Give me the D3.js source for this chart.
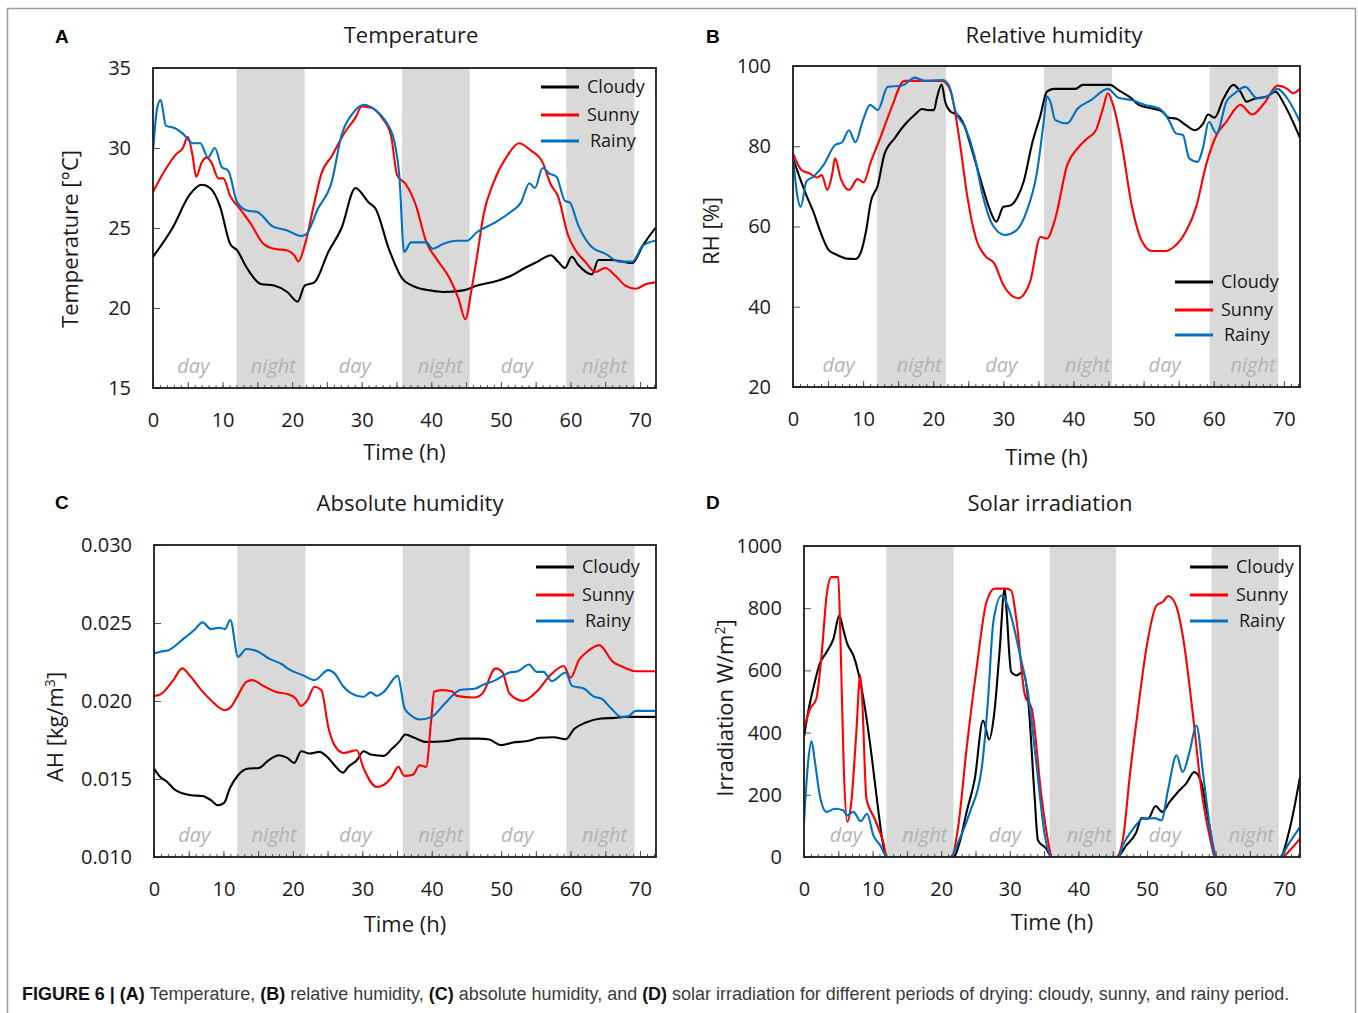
<!DOCTYPE html>
<html lang="en">
<head>
<meta charset="UTF-8">
<title>Figure 6 - drying conditions</title>
<style>
  body { margin: 0; background: #fff; }
  svg { display: block; font-family: 'Open Sans', sans-serif; }
  .title { font-size: 22px; fill: #1a1a1a; text-anchor: middle; }
  .letter { font: bold 19px 'Liberation Sans', Arial, sans-serif; fill: #000; }
  .axis-title { font-size: 22px; fill: #1a1a1a; text-anchor: middle; }
  .legend-text { font-size: 18px; fill: #1a1a1a; }
  .period { font-size: 20px; font-style: italic; fill: #b3b3b3; text-anchor: middle; }
  .caption { font-family: 'Liberation Sans', Arial, sans-serif; font-size: 19px; fill: #3a3a3a; }
</style>
</head>
<body>
<svg id="fig" width="1358" height="1013"></svg>

<script src="https://cdn.jsdelivr.net/npm/d3@7"></script>
<script>
// ---- data ----
const seriesNames = ["Cloudy", "Sunny", "Rainy"];
const seriesColors = ["#000000", "#ff0000", "#0070c0"];
const xTicks = [0, 10, 20, 30, 40, 50, 60, 70];
const nights = [[12, 21.8], [35.8, 45.5], [59.4, 69.2]];
const dayPos = [5.8, 29, 52.3];
const nightPos = [17.3, 41.3, 64.9];

const tempTicks = [15, 20, 25, 30, 35];
const rhTicks = [20, 40, 60, 80, 100];
const ahTicks = [0.010, 0.015, 0.020, 0.025, 0.030];
const irrTicks = [0, 200, 400, 600, 800, 1000];

// [time h, value]
const tempCloudy = [[0,23.2],[2.8,25.0],[5.3,27.1],[7.0,27.7],[8.2,27.5],[9.6,26.4],[11.1,24.0],[12.1,23.6],[13.5,22.5],[15.5,21.5],[17.4,21.4],[19.3,21.0],[20.8,20.4],[21.8,21.4],[23.2,21.6],[25.2,23.5],[27.1,25.0],[29.1,27.5],[31.0,26.6],[32.0,26.2],[33.9,23.7],[35.9,21.8],[37.8,21.3],[39.8,21.1],[41.7,21.0],[44.6,21.1],[46.6,21.4],[49.5,21.7],[51.4,22.0],[53.4,22.5],[55.3,22.9],[57.2,23.3],[58.2,22.9],[59.2,22.5],[60.2,23.2],[61.1,22.7],[63.1,22.1],[64.0,23.0],[66.0,23.0],[68.9,22.8],[70.4,23.9],[72.2,25.0]];
const tempSunny = [[0,27.25],[1.85,28.7],[3.3,29.6],[4.3,30.0],[5.0,30.7],[5.7,29.5],[6.2,28.2],[7.0,29.1],[7.7,29.4],[8.4,29.1],[9.4,28.1],[10.1,28.1],[11.1,27.0],[12.5,26.2],[14.0,25.3],[15.9,24.0],[17.4,23.7],[19.3,23.6],[20.3,23.3],[20.9,22.9],[21.8,23.9],[23.2,26.6],[24.2,28.4],[25.7,29.5],[27.6,31.0],[29.1,31.9],[30.0,32.6],[31.5,32.5],[32.9,31.9],[34.2,30.8],[35.1,28.3],[36.4,27.7],[37.8,26.4],[39.3,24.1],[40.7,23.1],[42.7,21.8],[43.9,20.6],[44.9,19.3],[45.8,21.2],[46.6,23.3],[47.5,25.8],[49.0,27.9],[50.9,29.5],[52.6,30.3],[54.3,29.85],[56.0,29.1],[57.2,27.7],[58.2,27.0],[59.7,24.5],[60.6,23.7],[62.1,22.9],[63.6,22.25],[65.0,22.5],[66.5,22.0],[67.9,21.4],[69.4,21.2],[70.9,21.5],[72.2,21.6]];
const tempRainy = [[0,29.75],[0.6,32.5],[1.1,33.0],[1.85,31.4],[3.1,31.25],[4.3,30.9],[5.7,30.3],[6.8,30.3],[7.9,29.4],[8.9,30.0],[9.9,28.8],[10.8,28.6],[12.1,26.6],[13.5,26.1],[15.0,26.0],[17.2,25.1],[19.3,24.85],[21.3,24.5],[22.0,24.6],[23.7,26.2],[25.7,27.9],[27.1,30.8],[28.6,32.1],[30.3,32.7],[32.0,32.35],[33.4,31.7],[34.7,30.4],[35.4,28.3],[36.1,23.5],[37.1,24.1],[38.3,24.1],[39.3,24.1],[40.2,23.7],[41.7,24.0],[43.6,24.2],[45.1,24.2],[46.6,24.75],[49.0,25.3],[51.4,26.0],[52.9,26.6],[54.1,27.8],[54.9,27.5],[56.0,28.75],[57.0,28.4],[58.0,28.2],[59.2,26.7],[59.9,26.6],[61.1,25.2],[63.1,23.8],[65.0,23.4],[67.0,22.9],[68.9,22.9],[70.4,23.9],[72.2,24.2]];

const rhCloudy = [[0,77.0],[1.0,72.0],[1.9,67.8],[2.9,63.7],[3.9,58.7],[5.1,54.1],[6.3,52.9],[7.7,52.0],[8.9,51.9],[9.7,53.7],[10.4,58.7],[11.1,66.2],[12.1,70.3],[13.0,77.8],[14.5,82.0],[15.9,85.3],[17.4,87.9],[18.4,89.3],[19.3,89.0],[20.1,89.0],[20.5,91.9],[21.2,95.4],[21.7,91.1],[22.5,88.6],[23.4,87.9],[24.4,85.3],[25.6,78.6],[27.1,69.5],[28.0,64.5],[29.0,61.2],[30.0,64.9],[30.9,65.2],[31.9,67.0],[32.9,71.2],[34.1,80.7],[35.3,87.8],[36.2,93.6],[37.2,94.3],[39.1,94.3],[40.3,94.3],[41.3,95.3],[43.0,95.3],[45.2,95.3],[46.4,94.0],[48.3,91.9],[49.3,90.3],[51.2,89.4],[52.7,88.6],[53.6,87.1],[54.6,86.9],[56.0,85.3],[57.3,84.0],[58.5,85.7],[59.2,87.9],[60.1,87.1],[61.4,91.9],[62.8,95.3],[63.8,93.6],[64.7,91.1],[65.7,91.8],[67.6,92.4],[68.8,93.6],[70.1,90.3],[72.3,82.1]];
const rhSunny = [[0,78.2],[1.2,74.1],[2.4,73.2],[3.4,72.2],[4.1,72.8],[4.9,69.1],[5.6,73.2],[6.0,77.0],[6.8,72.0],[8.0,69.1],[9.2,71.8],[10.05,71.0],[11.1,76.1],[12.6,82.8],[14.0,89.4],[15.9,96.3],[18.4,96.3],[21.3,96.3],[22.5,93.6],[23.7,82.0],[24.9,67.0],[26.1,57.0],[27.5,52.5],[28.7,50.8],[30.0,45.4],[32.1,42.1],[33.8,46.2],[35.3,57.4],[36.2,57.0],[37.4,62.0],[39.1,75.3],[40.6,79.5],[42.0,82.0],[43.2,84.0],[44.2,89.4],[44.9,93.2],[45.65,90.3],[46.9,80.3],[48.3,65.3],[49.8,56.2],[51.2,53.9],[53.1,53.9],[54.3,54.9],[56.0,58.7],[57.5,64.9],[58.9,75.3],[60.4,82.8],[61.8,86.1],[63.8,90.3],[65.5,87.9],[67.2,90.7],[69.1,95.1],[70.5,94.3],[71.3,93.2],[72.3,94.4]];
const rhRainy = [[0,77.4],[0.6,67.8],[1.1,64.9],[1.9,71.2],[2.9,72.4],[4.35,75.3],[6.0,80.3],[7.0,81.0],[7.97,84.0],[8.9,81.0],[9.9,86.1],[11.0,90.3],[12.1,89.0],[13.5,94.8],[15.5,95.1],[17.4,97.1],[18.8,96.3],[21.3,96.5],[22.2,95.3],[23.2,88.6],[24.6,84.5],[25.85,77.8],[27.05,67.8],[28.5,60.3],[30.2,57.9],[31.9,59.1],[33.3,63.7],[34.8,73.6],[35.75,86.1],[36.2,92.4],[36.7,91.1],[37.4,86.5],[39.1,85.7],[40.6,89.4],[42.5,91.5],[44.9,94.3],[46.4,92.1],[48.3,91.5],[50.2,90.3],[52.2,89.4],[53.6,86.5],[54.6,83.2],[55.6,82.8],[56.5,77.0],[57.7,76.1],[58.45,79.5],[59.3,86.1],[60.4,83.2],[61.8,91.1],[63.0,93.2],[64.5,94.8],[66.2,91.9],[67.6,92.4],[69.1,94.3],[70.5,91.9],[72.3,86.1]];

const ahCloudy = [[0,0.01567],[0.9,0.01513],[1.9,0.01481],[3.1,0.01428],[5.3,0.01396],[7.0,0.01391],[8.2,0.01364],[9.2,0.01332],[10.1,0.01347],[10.9,0.01438],[12.1,0.01524],[13.6,0.01567],[15.1,0.01571],[16.5,0.0162],[18.0,0.01652],[19.2,0.01635],[20.2,0.01603],[21.2,0.01678],[22.4,0.01663],[23.8,0.01674],[25.1,0.01635],[26.0,0.01588],[27.2,0.01541],[28.0,0.01578],[29.2,0.0162],[30.2,0.01678],[31.2,0.01657],[33.1,0.01648],[34.3,0.01695],[35.3,0.01738],[36.2,0.01785],[37.5,0.01764],[39.2,0.01738],[41.9,0.01742],[44.4,0.01759],[46.8,0.01759],[48.3,0.01753],[50.0,0.01717],[51.7,0.01734],[53.6,0.01742],[55.6,0.01764],[57.6,0.01768],[59.3,0.01755],[60.5,0.0182],[62.2,0.01862],[64.4,0.01888],[66.3,0.01892],[67.8,0.01898],[69.8,0.01898],[72.3,0.01898]];
const ahSunny = [[0,0.02033],[0.9,0.02042],[2.8,0.02134],[4.05,0.02209],[5.3,0.02155],[6.7,0.02076],[8.2,0.02005],[10.2,0.01941],[11.1,0.01963],[12.1,0.02037],[13.3,0.02123],[14.1,0.02134],[16.0,0.02091],[17.5,0.02059],[19.4,0.02042],[20.4,0.02016],[21.15,0.01969],[22.1,0.02005],[23.1,0.02091],[24.1,0.0207],[25.1,0.01834],[26.0,0.01717],[27.3,0.01667],[29.2,0.01684],[30.2,0.01567],[32.1,0.01449],[34.1,0.01503],[35.2,0.01578],[36.05,0.0152],[37.3,0.01528],[38.25,0.01588],[39.2,0.01578],[39.9,0.01866],[40.35,0.02059],[41.4,0.0207],[42.9,0.02063],[43.6,0.02033],[46.1,0.02022],[47.3,0.02048],[49.2,0.02209],[50.2,0.02183],[51.2,0.02048],[53.15,0.02001],[55.1,0.02059],[57.1,0.02166],[59.0,0.02224],[60.0,0.02149],[61.2,0.02262],[62.4,0.02316],[64.1,0.02358],[66.1,0.02251],[67.8,0.02213],[69.3,0.02191],[72.3,0.02191]];
const ahRainy = [[0,0.02305],[0.9,0.02316],[2.1,0.02326],[4.3,0.02401],[5.8,0.02455],[7.0,0.02504],[8.2,0.02461],[9.4,0.0247],[10.2,0.02461],[11.0,0.02519],[12.1,0.02283],[13.3,0.02333],[15.05,0.02316],[16.5,0.02273],[18.5,0.02234],[19.4,0.02204],[21.4,0.02166],[23.1,0.02134],[25.1,0.02198],[26.0,0.02177],[27.3,0.02091],[28.2,0.02055],[30.2,0.02027],[31.2,0.02055],[32.1,0.02033],[33.1,0.02059],[35.1,0.02161],[36.1,0.01952],[37.0,0.01909],[38.25,0.01881],[40.0,0.01898],[41.9,0.01984],[44.1,0.0207],[46.3,0.0208],[47.3,0.02102],[49.2,0.02134],[51.2,0.02183],[52.4,0.02191],[54.0,0.02234],[55.1,0.02187],[56.1,0.02187],[57.3,0.02127],[59.3,0.02183],[60.2,0.02097],[61.9,0.0208],[63.4,0.02027],[64.4,0.02016],[65.85,0.01952],[67.3,0.01898],[68.3,0.01902],[69.4,0.01937],[72.3,0.01937]];

const irrCloudy = [[0,386],[0.6,466],[1.4,547],[2.3,622],[3.3,659],[4.3,702],[5.15,777],[5.7,734],[6.3,686],[7.2,648],[7.9,595],[8.9,477],[9.85,327],[10.8,155],[11.55,38],[12.05,0],[21.75,0],[22.7,48],[23.7,145],[24.9,252],[26.1,439],[27.0,378],[27.7,456],[28.5,659],[29.25,863],[29.5,800],[30.2,595],[31.0,584],[31.9,595],[32.7,498],[33.6,198],[34.1,54],[35.3,27],[36.1,0],[45.6,0],[47.0,38],[48.45,80],[49.2,125],[50.15,123],[51.25,164],[52.2,145],[53.3,177],[54.5,209],[55.7,236],[56.9,273],[57.9,241],[58.9,123],[60.1,0],[69.4,0],[70.8,91],[72.3,257]];
const irrSunny = [[0,413],[0.9,477],[1.8,509],[2.6,659],[3.3,841],[4.0,900],[5.0,900],[5.3,713],[5.8,284],[6.3,113],[6.9,177],[7.6,391],[8.2,584],[8.5,498],[9.1,188],[10.3,123],[11.55,48],[12.1,0],[21.5,0],[22.5,102],[23.7,348],[25.15,606],[26.6,820],[27.8,863],[29.5,863],[30.2,857],[31.0,756],[32.2,520],[33.2,477],[34.6,198],[35.6,48],[36.1,0],[45.5,0],[46.5,59],[47.5,263],[48.7,477],[49.9,670],[51.4,809],[52.3,820],[53.1,839],[54.3,804],[55.2,713],[56.7,456],[57.9,220],[59.1,70],[60.0,0],[69.7,0],[70.8,21],[72.3,59]];
const irrRainy = [[0,113],[0.6,305],[1.1,372],[1.6,305],[2.3,198],[3.3,145],[4.5,155],[5.7,150],[6.3,134],[7.2,145],[8.25,115],[9.2,139],[10.1,70],[11.1,38],[12.1,0],[21.3,0],[22.7,59],[24.2,145],[25.9,284],[26.8,498],[27.6,756],[28.8,841],[30.0,788],[31.5,648],[32.7,520],[33.9,295],[35.1,70],[36.1,0],[45.8,0],[46.5,38],[48.0,91],[49.4,123],[51.1,125],[52.1,118],[53.1,220],[54.3,327],[55.2,273],[56.2,338],[57.2,423],[58.2,263],[59.2,91],[60.2,0],[69.3,0],[70.8,48],[72.3,96]];

// ---- layout ----
const svg = d3.select("#fig");
svg.append("rect").attr("width", 1358).attr("height", 1013).attr("fill", "#fff");
svg.append("rect")
    .attr("x", 7.5).attr("y", 8.5).attr("width", 1348).attr("height", 1030)
    .attr("fill", "none").attr("stroke", "#9a9a9a").attr("stroke-width", 1.5);

const panels = [
  { letter: "A", title: "Temperature", box: [153, 68, 656, 388], letterPos: [55, 43], titlePos: [411, 43],
    ticks: tempTicks, fmt: d3.format("d"), series: [tempCloudy, tempSunny, tempRainy],
    ylab: "Temperature [°C]", ylabPos: [78, 239], xlabY: 460, labelShift: 0,
    legend: { x: 541, ys: [87, 115, 141] } },
  { letter: "B", title: "Relative humidity", box: [793, 66, 1300, 387], letterPos: [706, 43], titlePos: [1054, 43],
    ticks: rhTicks, fmt: d3.format("d"), series: [rhCloudy, rhSunny, rhRainy],
    ylab: "RH [%]", ylabPos: [719, 231], xlabY: 465, labelShift: 0.7,
    legend: { x: 1175, ys: [282, 310, 335] } },
  { letter: "C", title: "Absolute humidity", box: [154, 545, 656, 857], letterPos: [55, 509], titlePos: [410, 511],
    ticks: ahTicks, fmt: d3.format(".3f"), series: [ahCloudy, ahSunny, ahRainy],
    ylab: "AH [kg/m", ylabSup: "3", ylabEnd: "]", ylabPos: [63, 727], xlabY: 932, labelShift: 0,
    legend: { x: 536, ys: [567, 595, 621] } },
  { letter: "D", title: "Solar irradiation", box: [804, 546, 1300, 857], letterPos: [706, 509], titlePos: [1050, 511],
    ticks: irrTicks, fmt: d3.format("d"), series: [irrCloudy, irrSunny, irrRainy],
    ylab: "Irradiation W/m", ylabSup: "2", ylabEnd: "]", ylabPos: [733, 708], xlabY: 930, labelShift: 0.3,
    legend: { x: 1190, ys: [567, 595, 621] } }
];

panels.forEach((p, pi) => {
  const [x0, y0, x1, y1] = p.box;
  const x = d3.scaleLinear().domain([0, 72.3]).range([x0, x1]);
  const y = d3.scaleLinear().domain(d3.extent(p.ticks)).range([y1, y0]);
  const g = svg.append("g");

  // night bands
  g.selectAll(".night").data(nights).join("rect")
      .attr("x", d => x(d[0])).attr("y", y0)
      .attr("width", d => x(d[1]) - x(d[0])).attr("height", y1 - y0)
      .attr("fill", "#d9d9d9");

  // day / night labels
  g.selectAll(".dl").data(dayPos).join("text").attr("class", "period")
      .attr("x", d => x(d + p.labelShift)).attr("y", y1 - 15).text("day");
  g.selectAll(".nl").data(nightPos).join("text").attr("class", "period")
      .attr("x", d => x(d + p.labelShift)).attr("y", y1 - 15).text("night");

  // inward ticks
  const minor = g.append("g").attr("transform", `translate(0,${y1})`)
      .call(d3.axisTop(x).tickValues(d3.range(0, 73, 1)).tickSize(3).tickFormat(""));
  const major = g.append("g").attr("transform", `translate(0,${y1})`)
      .call(d3.axisTop(x).tickValues(d3.range(0, 73, 5)).tickSize(6).tickFormat(""));
  const yin = g.append("g").attr("transform", `translate(${x0},0)`)
      .call(d3.axisRight(y).tickValues(p.ticks).tickSize(7).tickFormat(""));
  [minor, major, yin].forEach(a => {
    a.select(".domain").remove();
    a.selectAll("line").attr("stroke", "#555").attr("stroke-width", 1);
  });

  // tick labels
  const xl = g.append("g").attr("transform", `translate(0,${y1})`)
      .call(d3.axisBottom(x).tickValues(xTicks).tickSize(0).tickPadding(25));
  const yl = g.append("g").attr("transform", `translate(${x0},0)`)
      .call(d3.axisLeft(y).tickValues(p.ticks).tickSize(0).tickPadding(22).tickFormat(p.fmt));
  [xl, yl].forEach(a => {
    a.select(".domain").remove();
    a.attr("font-family", "'Open Sans', sans-serif").attr("font-size", 20);
    a.selectAll("text").attr("fill", "#1a1a1a");
  });

  // lines
  const clipId = "clip" + pi;
  svg.append("clipPath").attr("id", clipId).append("rect")
      .attr("x", x0).attr("y", y0).attr("width", x1 - x0).attr("height", y1 - y0);
  const line = d3.line().x(d => x(d[0])).y(d => y(d[1])).curve(d3.curveMonotoneX);
  g.append("g").attr("clip-path", `url(#${clipId})`)
    .selectAll("path").data(p.series).join("path")
      .attr("d", line)
      .attr("fill", "none")
      .attr("stroke", (d, i) => seriesColors[i])
      .attr("stroke-width", 2.1)
      .attr("stroke-linejoin", "round");

  // frame
  g.append("rect").attr("x", x0).attr("y", y0).attr("width", x1 - x0).attr("height", y1 - y0)
      .attr("fill", "none").attr("stroke", "#1a1a1a").attr("stroke-width", 1.8);

  // legend
  const lg = g.append("g");
  seriesNames.forEach((name, i) => {
    lg.append("line")
        .attr("x1", p.legend.x).attr("x2", p.legend.x + 38)
        .attr("y1", p.legend.ys[i]).attr("y2", p.legend.ys[i])
        .attr("stroke", seriesColors[i]).attr("stroke-width", 3);
    lg.append("text").attr("class", "legend-text")
        .attr("x", p.legend.x + 46 + (i === 2 ? 3 : 0)).attr("y", p.legend.ys[i] + 6).text(name);
  });

  // titles
  svg.append("text").attr("class", "letter").attr("x", p.letterPos[0]).attr("y", p.letterPos[1]).text(p.letter);
  svg.append("text").attr("class", "title").attr("x", p.titlePos[0]).attr("y", p.titlePos[1]).text(p.title);
  svg.append("text").attr("class", "axis-title").attr("x", (x0 + x1) / 2).attr("y", p.xlabY).text("Time (h)");

  const yt = svg.append("text").attr("class", "axis-title")
      .attr("transform", `translate(${p.ylabPos[0]},${p.ylabPos[1]}) rotate(-90)`);
  yt.append("tspan").text(p.ylab);
  if (p.ylabSup) {
    yt.append("tspan").attr("dy", -8).attr("font-size", 14).text(p.ylabSup);
    yt.append("tspan").attr("dy", 8).text(p.ylabEnd);
  }
});

// caption: natural width measured, then squeezed horizontally to the reference width
const cap = svg.append("text").attr("class", "caption");
const capParts = [
  ["FIGURE 6 | (A)", true], [" Temperature, ", false], ["(B)", true], [" relative humidity, ", false],
  ["(C)", true], [" absolute humidity, and ", false], ["(D)", true],
  [" solar irradiation for different periods of drying: cloudy, sunny, and rainy period.", false]
];
capParts.forEach(([t, b]) => {
  cap.append("tspan").attr("font-weight", b ? "bold" : "normal").attr("fill", b ? "#111" : "#3a3a3a").text(t);
});
const capLen = cap.node().getComputedTextLength();
cap.attr("transform", `translate(22,1000) scale(${1268 / capLen},1)`);
</script>
</body>
</html>
